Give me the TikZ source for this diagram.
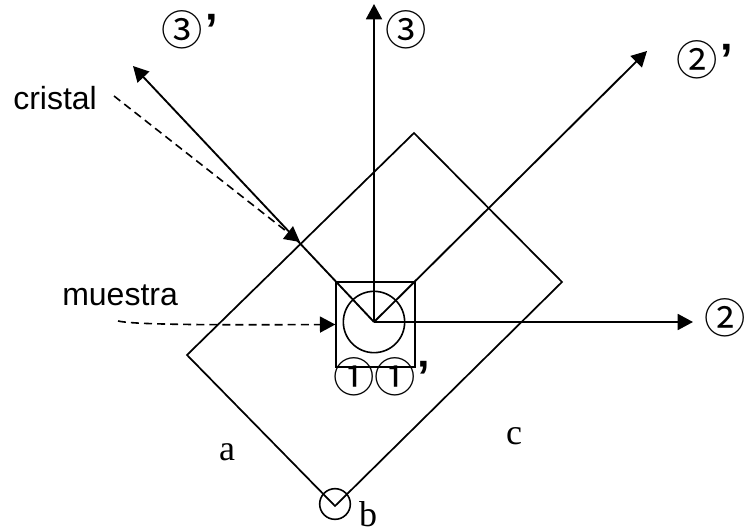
\documentclass[tikz,border=0pt]{standalone}
\usepackage{fontspec}
\setmainfont{Liberation Sans}
\newfontfamily\circfont{Noto Sans CJK SC}
\newfontfamily\serifletter{Liberation Serif}
\usetikzlibrary{arrows.meta}
\newcommand{\primemark}{\hspace{1.5pt}{\fontspec{Liberation Sans}\bfseries\fontsize{34}{34}\selectfont\char"2019}}
\tikzset{
    beam/.style={draw, line width=1.4pt, -{Triangle[length=11.5pt,width=12pt]}},
    guide/.style={draw, line width=1.2pt, dash pattern=on 6pt off 3.8pt, -{Triangle[length=11.5pt,width=12pt]}},
    edge/.style={draw, line width=1.3pt},
    sensor/.style={font=\circfont\fontsize{31}{31}\selectfont, inner sep=0pt},
    sidelabel/.style={font=\serifletter\fontsize{27}{27}\selectfont, inner sep=0pt},
    caption/.style={font=\fontsize{24}{26}\selectfont, inner sep=0pt}
}
\begin{document}
\begin{tikzpicture}[x=0.75pt, y=-0.75pt]
        \useasboundingbox (0,0) rectangle (746,531);
        \coordinate (top) at (414,133);
        \coordinate (right) at (562,282);
        \coordinate (bottom) at (335,506);
        \coordinate (left) at (187,355);
        \coordinate (o) at (374,322);
        \coordinate (t3) at (374,4);
        \coordinate (t3p) at (133,66);
        \coordinate (t2) at (693,322);
        \coordinate (t2p) at (647,51);
        \coordinate (wall) at (300,242);
        \coordinate (cristalstart) at (114,96);
        \coordinate (muestrastart) at (118,321);
        \node[draw, line width=1.3pt, minimum width=59pt, minimum height=64pt, inner sep=0pt] (box) at (375.5,324.5) {};
        \node[draw, circle, line width=1.2pt, minimum size=46pt, inner sep=0pt] (sample) at (o) {};
        \node[draw, circle, line width=1.2pt, minimum size=23pt, inner sep=0pt] (pivot) at (335,504) {};
        \draw[edge] (top) -- (right) -- (bottom) -- (left) -- cycle;
        \draw[beam] (o) -- (t3);
        \draw[beam] (o) -- (t3p);
        \draw[beam] (o) -- (t2);
        \draw[beam] (o) -- (t2p);
        \draw[guide] (cristalstart) -- (wall);
        \draw[guide] (muestrastart) .. controls (135,325) and (220,325) .. (box.west);
        \node[sensor] (s3) at (406,30) {③};
        \node[sensor, anchor=west] (s3p) at (161.5,30) {③\primemark};
        \node[sensor, anchor=west] (s2p) at (676.5,60) {②\primemark};
        \node[sensor, anchor=east] (s2) at (746,318) {②};
        \node[sensor, anchor=west] (s1) at (333.5,377) {①\hspace{-0.7pt}①\primemark};
        \node[caption, anchor=west] (cristal) at (13,98) {cristal};
        \node[caption, anchor=west] (muestra) at (62,295) {muestra};
        \node[sidelabel] (a) at (227,452) {a};
        \node[sidelabel] (b) at (368,514) {b};
        \node[sidelabel] (c) at (514,436) {c};
    \end{tikzpicture}
\end{document}
